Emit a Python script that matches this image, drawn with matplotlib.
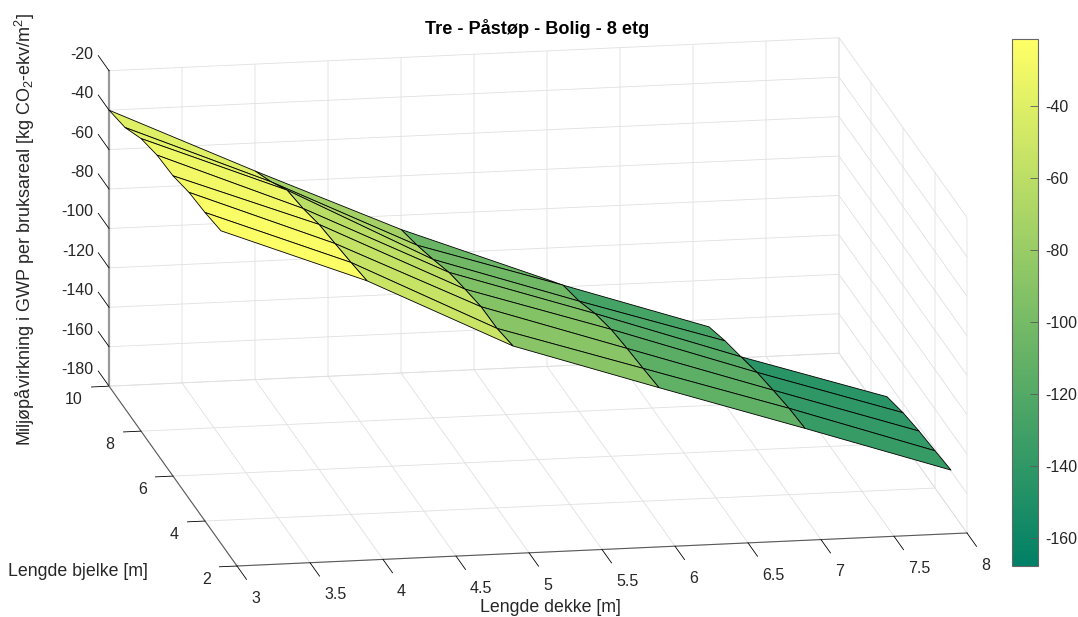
import numpy as np
import matplotlib
matplotlib.use("Agg")
import matplotlib.pyplot as plt
from matplotlib.cm import ScalarMappable
from matplotlib.colors import Normalize
from matplotlib.transforms import Affine2D
from mpl_toolkits.mplot3d import proj3d
from mpl_toolkits.mplot3d.art3d import Poly3DCollection

plt.rcParams['font.family'] = ['Liberation Sans', 'DejaVu Sans']
plt.rcParams['mathtext.default'] = 'regular'
plt.rcParams['axes.unicode_minus'] = False

nan = float('nan')
deck_lengths = [3, 4, 5, 6, 7, 8]
beam_lengths = [10, 9, 8, 7, 6, 5, 4, 3]
gwp_deck3 = [-40.0, -37.4, -31.6, -28.6, -27.7, -24.7, -23.5, -21.4]
gwp_deck4 = [-74.2, -68.3, -61.1, -59.0, -55.7, -54.0, -52.2, -50.1]
gwp_deck5 = [-107.2, -103.8, -99.6, -94.8, -91.9, -89.4, -89.0, -86.5]
gwp_deck6 = [-135.9, -127.4, -124.1, -119.0, -115.6, -113.9, -112.6, -111.0]
gwp_deck7 = [nan, -151.9, -147.6, -144.3, -140.8, -138.4, -136.2, -135.0]
gwp_deck8 = [nan, nan, nan, -167.9, -164.6, -162.5, -161.1, -159.5]

x_ticks = [3, 3.5, 4, 4.5, 5, 5.5, 6, 6.5, 7, 7.5, 8]
x_tick_labels = ['3', '3.5', '4', '4.5', '5', '5.5', '6', '6.5', '7', '7.5', '8']
y_ticks = [2, 4, 6, 8, 10]
z_ticks = [-180, -160, -140, -120, -100, -80, -60, -40, -20]
cbar_ticks = [-160, -140, -120, -100, -80, -60, -40]

title = 'Tre - Påstøp - Bolig - 8 etg'
x_label = 'Lengde dekke [m]'
y_label = 'Lengde bjelke [m]'
z_label = 'Miljøpåvirkning i GWP per bruksareal [kg CO$_2$-ekv/m$^2$]'

TEXT = (0.15, 0.15, 0.15)
W, H = 1078, 617
fig = plt.figure(figsize=(W / 100, H / 100), dpi=100)
ax = fig.add_axes([0, 0, 1, 1], projection='3d', proj_type='ortho',
                  computed_zorder=True)
ax.patch.set_alpha(0)
ax.view_init(elev=14.6, azim=-100.17)
ax.set_box_aspect((741.7, 724.8, 326.0))
ax.set_xlim(3, 8)
ax.set_ylim(2, 10)
ax.set_zlim(-180, -20)

Z = np.array([gwp_deck3, gwp_deck4, gwp_deck5, gwp_deck6, gwp_deck7, gwp_deck8])
norm = Normalize(np.nanmin(Z), np.nanmax(Z))
cmap = plt.get_cmap('summer')
polys, vals = [], []
for i in range(len(deck_lengths) - 1):
    for j in range(len(beam_lengths) - 1):
        corners = [(i, j), (i + 1, j), (i + 1, j + 1), (i, j + 1)]
        if any(np.isnan(Z[c]) for c in corners):
            continue
        polys.append([(deck_lengths[a], beam_lengths[b], Z[a, b]) for a, b in corners])
        vals.append(Z[i, j])
ax.add_collection3d(Poly3DCollection(polys, facecolors=cmap(norm(np.array(vals))),
                                     edgecolors='black', linewidths=0.6))

ax.set_xticks(x_ticks, x_tick_labels)
ax.set_yticks(y_ticks)
ax.set_zticks(z_ticks)
ax.tick_params(labelsize=11.5, labelcolor=TEXT, pad=3)
tick_factor = {'x': -0.93, 'y': -0.3, 'z': 1.05}
for name, axis in (('x', ax.xaxis), ('y', ax.yaxis), ('z', ax.zaxis)):
    axis.set_pane_color((1, 1, 1, 0))
    axis.pane.set_edgecolor((1, 1, 1, 0))
    axis.line.set_color((0.35, 0.35, 0.35))
    axis.line.set_linewidth(0.8)
    axis._axinfo['grid'].update(color=(0.88, 0.88, 0.88), linewidth=0.6)
    axis._axinfo['tick'].update(inward_factor=0, outward_factor=tick_factor[name],
                                linewidth={True: 0.6, False: 0.6})
    axis._axinfo['tick']['color'] = (0.35, 0.35, 0.35)
ax.xaxis.set_ticks_position('lower')
ax.yaxis.set_ticks_position('lower')
ax.zaxis.set_ticks_position('upper')
ax.zaxis._get_tickdir = lambda pos: 1
ax.zaxis.line.set_linewidth(1.6)
ax.zaxis.line.set_color((0.6, 0.6, 0.6))

# Tick-label alignment and pixel nudges, as MATLAB places them.
# Axis3D.get_major_ticks resets label transforms, so pin the nudged one.
label_style = {'x': (ax.xaxis, 'left', 10.5, -11), 'y': (ax.yaxis, 'right', -6, 4),
               'z': (ax.zaxis, 'right', 8.5, 20)}
for axis, ha, dx, dy in label_style.values():
    for tick in axis.get_major_ticks():
        tick.label1.set_ha(ha)
        tick.label1.set_transform(ax.transData + Affine2D().translate(dx, dy))
        tick.label1.set_transform = lambda t: None

# Fit the projected box onto the reference's pixel anchors
def to_px(x, y, z):
    ax.apply_aspect()
    px, py, _ = proj3d.proj_transform(x, y, z, ax.get_proj())
    return ax.transData.transform((px, py))

target_a = np.array([237.0, H - 566.0])
target_b = np.array([967.0, H - 533.0])
side = 800.0
left, bottom = 100.0, 0.0
for _ in range(4):
    ax.set_position([left / W, bottom / H, side / W, side / H])
    a, b = to_px(3, 2, -180), to_px(8, 2, -180)
    scale = (target_b[0] - target_a[0]) / (b[0] - a[0])
    side *= scale
    ax.set_position([left / W, bottom / H, side / W, side / H])
    a = to_px(3, 2, -180)
    left += target_a[0] - a[0]
    bottom += target_a[1] - a[1]
ax.set_position([left / W, bottom / H, side / W, side / H])

fig.text(537.5 / W, 1 - 28 / H, title, ha='center', va='center', fontsize=13.1,
         fontweight='bold', color='black')
fig.text(550 / W, 1 - 608 / H, x_label, ha='center', va='center', fontsize=12.8, color=TEXT)
fig.text(78 / W, 1 - 572 / H, y_label, ha='center', va='center', fontsize=12.8, color=TEXT)
fig.text(25 / W, 1 - 229 / H, z_label, ha='center', va='center', rotation=90,
         fontsize=13, color=TEXT)

cax = fig.add_axes([1012 / W, 1 - 566 / H, 26 / W, 527 / H])
cb = fig.colorbar(ScalarMappable(norm=norm, cmap=cmap), cax=cax, ticks=cbar_ticks)
cb.outline.set_edgecolor((0.4, 0.4, 0.4))
cb.outline.set_linewidth(0.8)
cax.tick_params(direction='in', length=5.5, width=0.6, color=(0.35, 0.35, 0.35),
                labelsize=11.5, labelcolor=TEXT, pad=5)

fig.savefig('out.png', dpi=100)
